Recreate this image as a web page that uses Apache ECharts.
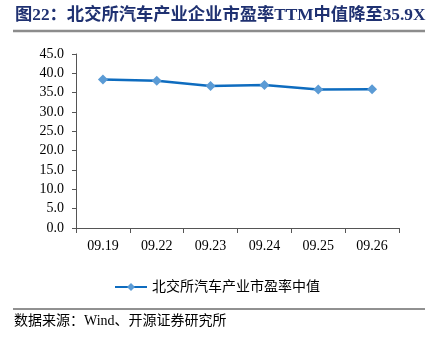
<!DOCTYPE html>
<html><head><meta charset="utf-8">
<script src="https://cdn.jsdelivr.net/npm/echarts@6/dist/echarts.min.js"></script>
<style>html,body{margin:0;padding:0;background:#fff}#c{width:441px;height:337px}</style>
</head><body><div id="c"></div>
<script>
const categories = ['09.19','09.22','09.23','09.24','09.25','09.26'];
const peMedian = [38.4, 38.1, 36.7, 37.0, 35.8, 35.9];
const seriesName = '北交所汽车产业市盈率中值';
const titleText = '图22：北交所汽车产业企业市盈率TTM中值降至35.9X';
const sourceText = '数据来源：Wind、开源证券研究所';

const chart = echarts.init(document.getElementById('c'));
const serif = '"Liberation Serif","Noto Sans CJK SC",serif';
chart.setOption({
  animation: false,
  backgroundColor: '#fff',
  graphic: [
    {type:'text', left:15, top:7, style:{text:titleText, font:'bold 17.3px "Liberation Serif","Noto Sans CJK SC"', fill:'#1F3171'}},
    {type:'line', shape:{x1:13,y1:31,x2:425,y2:31}, style:{stroke:'#8c8c8c', lineWidth:2.5}},
    {type:'line', shape:{x1:13,y1:309,x2:425,y2:309}, style:{stroke:'#222', lineWidth:1}},
    {type:'text', left:14, top:314, style:{text:sourceText, font:'14px "Liberation Serif","Noto Sans CJK SC"', fill:'#000'}}
  ],
  grid: {left:76, right:42, top:54, bottom:109},
  legend: {
    data:[seriesName], top:275, left:109, itemWidth:32, itemHeight:10, itemGap:4,
    textStyle:{fontFamily:serif, fontSize:14, color:'#000'}
  },
  xAxis: {
    type:'category', data:categories, boundaryGap:true,
    axisLine:{lineStyle:{color:'#555', width:1}},
    axisTick:{show:true, length:5, lineStyle:{color:'#555'}},
    axisLabel:{color:'#000', fontFamily:serif, fontSize:14, margin:11}
  },
  yAxis: {
    type:'value', min:0, max:45, interval:5,
    axisLine:{show:true, lineStyle:{color:'#555', width:1}},
    axisTick:{show:true, length:4, lineStyle:{color:'#555'}},
    splitLine:{show:false},
    axisLabel:{color:'#000', fontFamily:serif, fontSize:14, margin:12, formatter:v=>v.toFixed(1)}
  },
  series: [{
    name: seriesName, type:'line', data: peMedian,
    symbol:'diamond', symbolSize:10,
    lineStyle:{color:'#0E6CBF', width:2.5},
    itemStyle:{color:'#5B9BD5'}
  }]
});
</script></body></html>
